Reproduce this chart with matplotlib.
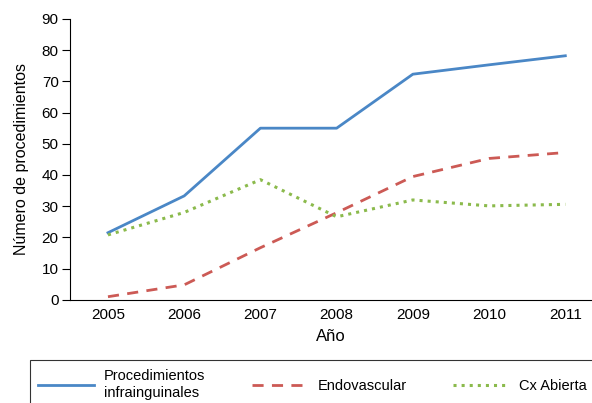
import matplotlib
matplotlib.use('Agg')
import matplotlib.pyplot as plt

plt.rcParams['font.family'] = ['Liberation Sans', 'DejaVu Sans']

years = [2005, 2006, 2007, 2008, 2009, 2010, 2011]
infrainguinales = [21.5, 33.3, 55, 55, 72.3, 75.3, 78.2]
endovascular = [1, 4.8, 16.7, 27.9, 39.5, 45.3, 47.2]
cx_abierta = [20.8, 28, 38.5, 26.6, 32, 30.1, 30.6]

fig = plt.figure(figsize=(5.92, 4.03), dpi=100)
ax = fig.add_axes([0.118, 0.256, 0.882, 0.697])

ax.plot(years, infrainguinales, '-', color='#4a87c6', lw=2, label='Procedimientos\ninfrainguinales')
ax.plot(years, endovascular, '--', color='#cc5a55', lw=2, dashes=(4, 3), label='Endovascular')
ax.plot(years, cx_abierta, ':', color='#8bba4c', lw=2.2, label='Cx Abierta')

ax.set_xlim(2004.5, 2011.35)
ax.set_ylim(0, 90)
ax.set_yticks(range(0, 91, 10))
ax.set_xticks(years)
ax.tick_params(axis='x', length=0, labelsize=11, pad=6)
ax.tick_params(axis='y', length=6, labelsize=11, pad=2)
ax.spines['top'].set_visible(False)
ax.spines['right'].set_visible(False)
ax.set_xlabel('Año', fontsize=12, labelpad=5)
ax.set_ylabel('Número de procedimientos', fontsize=11.5, labelpad=9)

leg = fig.legend(loc='upper left', bbox_to_anchor=(0.05, 0.107), ncol=3,
                 frameon=True, fancybox=False, edgecolor='black', fontsize=10.5,
                 handlelength=3.8, handletextpad=0.7, columnspacing=3.2,
                 borderpad=0.6, borderaxespad=0)
leg.get_frame().set_linewidth(0.8)
leg.get_texts()[0].set_linespacing(1.3)

fig.savefig('out.png', dpi=100)
